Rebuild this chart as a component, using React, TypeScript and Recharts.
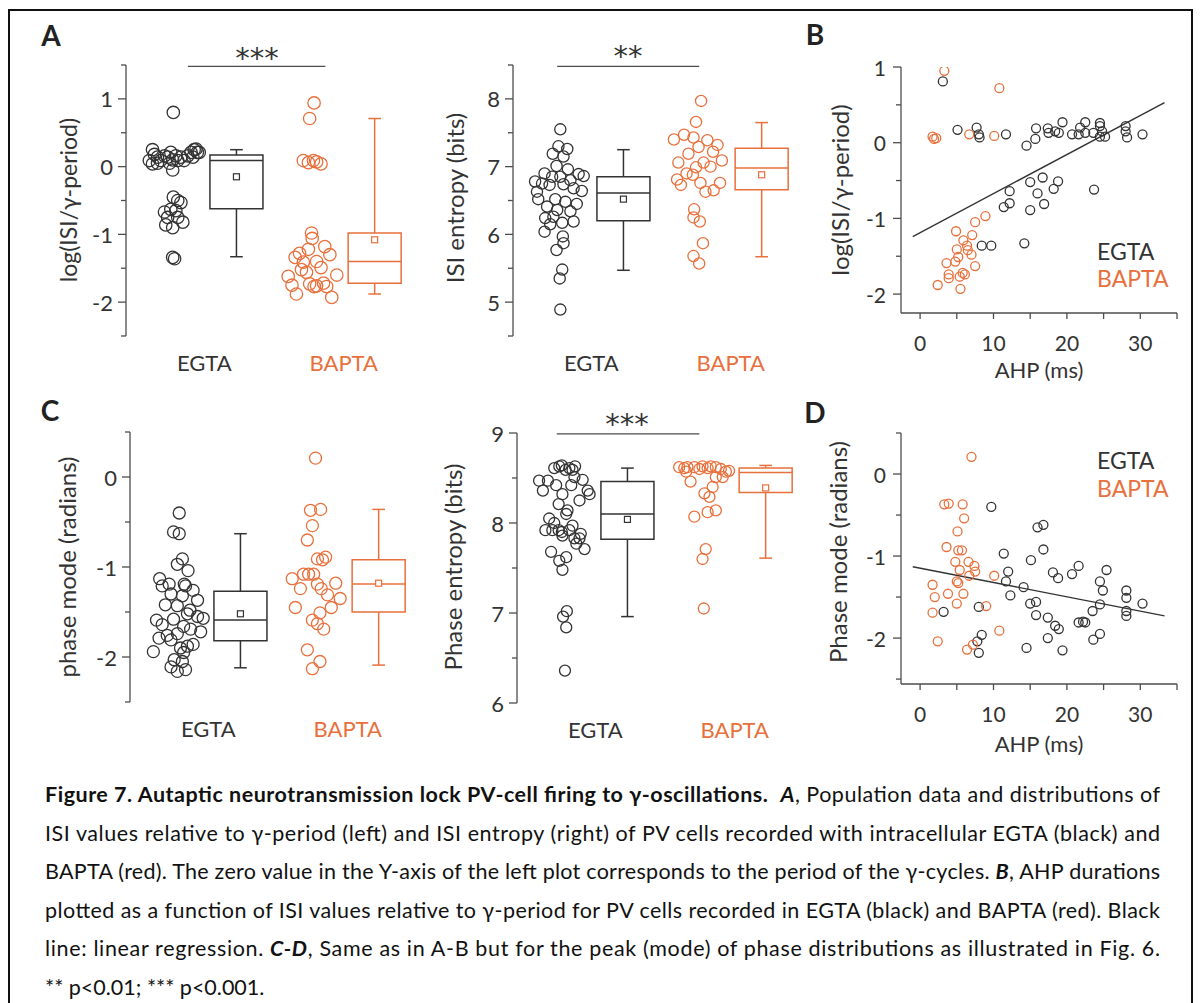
import React from 'react';
import { ScatterChart, Scatter, XAxis, YAxis, ReferenceArea, ReferenceLine } from 'recharts';

const INK = '#333333';
const ORANGE = '#e8703c';
const AXIS = '#4d4d4d';
const FONT = 'Lato, "Open Sans", "DejaVu Sans", sans-serif';

// strip plots: x positions (category units, axis domain 0..4.5)
const groupNames = ['EGTA', 'BAPTA'];
const groupTicks = [1.24, 3.45];
const EGTA_DOTS = 0.75;
const EGTA_BOX = 1.75;
const BAPTA_DOTS = 2.94;
const BAPTA_BOX = 3.94;

// A left: log(ISI/γ-period), points are [jitter, value]
const isiEgta = [
  [0, 0.8], [-0.33, 0.25], [-0.38, 0.09], [-0.3, 0.18], [-0.25, 0.14], [-0.2, 0.09], [-0.14, 0.16],
  [-0.09, 0.14], [-0.04, 0.21], [-0.01, 0.1], [0.04, 0.16], [0.07, 0.09], [0.12, 0.14], [0.17, 0.09],
  [0.23, 0.16], [0.28, 0.21], [0.31, 0.14], [0.33, 0.25], [0.36, 0.26], [0.38, 0.21], [0.41, 0.21],
  [-0.06, 0.05], [-0.25, 0.05], [-0.33, 0.04], [-0.01, -0.05],
  [0, -0.45], [0.07, -0.5], [0.12, -0.53], [-0.14, -0.67], [-0.04, -0.63], [0.04, -0.65], [-0.09, -0.75],
  [0.07, -0.75], [0.15, -0.82], [-0.12, -0.86], [-0.01, -0.9], [-0.01, -1.34], [0.02, -1.36],
];
const isiBapta = [
  [0.04, 0.94], [-0.03, 0.71], [-0.13, 0.09], [-0.05, 0.06], [0.03, 0.09], [0.08, 0.07], [0.15, 0.04],
  [0, -0.98], [0.01, -1.06], [-0.05, -1.22], [0.21, -1.18], [0.29, -1.3], [-0.26, -1.34], [-0.19, -1.28],
  [-0.13, -1.41], [0.08, -1.4], [0.15, -1.49], [-0.16, -1.52], [-0.08, -1.56], [0.4, -1.6], [-0.37, -1.62],
  [-0.03, -1.73], [0.08, -1.76], [0.19, -1.72], [0.24, -1.77], [0.04, -1.77], [-0.31, -1.75],
  [-0.24, -1.88], [0.32, -1.93],
];
// box stats: [low whisker, q1, median, q3, high whisker, mean]
const isiEgtaBox = [-1.33, -0.62, 0.09, 0.17, 0.25, -0.15];
const isiBaptaBox = [-1.88, -1.72, -1.4, -0.98, 0.71, -1.08];

// A right: ISI entropy (bits)
const entEgta = [
  [0, 7.55], [-0.03, 7.3], [0.11, 7.26], [-0.12, 7.19], [0.05, 7.15], [-0.06, 7.01], [0.12, 6.96],
  [-0.25, 6.9], [0.29, 6.89], [0.37, 6.86], [-0.13, 6.85], [0, 6.85], [0.16, 6.8], [-0.4, 6.78],
  [-0.29, 6.75], [0.05, 6.74], [-0.17, 6.73], [0.21, 6.68], [0.34, 6.64], [-0.37, 6.63], [-0.35, 6.52],
  [-0.08, 6.52], [0.08, 6.48], [0.26, 6.45], [-0.21, 6.41], [-0.05, 6.36], [0.16, 6.34], [-0.11, 6.26],
  [-0.24, 6.24], [0.21, 6.19], [0.03, 6.17], [-0.16, 6.15], [-0.25, 6.04], [0.04, 5.97], [0.05, 5.87],
  [-0.06, 5.77], [0.03, 5.48], [-0.01, 5.35], [0, 4.89],
];
const entBapta = [
  [0.04, 7.97], [-0.04, 7.66], [-0.23, 7.47], [-0.08, 7.43], [-0.39, 7.4], [0.14, 7.39], [0.3, 7.32],
  [0, 7.29], [0.23, 7.22], [-0.16, 7.19], [0.37, 7.09], [-0.32, 7.06], [0.08, 7.06], [0.19, 7.0],
  [-0.04, 6.99], [-0.19, 6.9], [-0.09, 6.88], [-0.34, 6.81], [0.03, 6.76], [0.34, 6.76], [-0.28, 6.73],
  [0.24, 6.65], [0.11, 6.63], [-0.07, 6.37], [-0.08, 6.25], [0.02, 6.19], [0.07, 5.87], [-0.08, 5.68],
  [0.01, 5.57],
];
const entEgtaBox = [5.47, 6.2, 6.61, 6.85, 7.25, 6.52];
const entBaptaBox = [5.67, 6.66, 6.98, 7.27, 7.65, 6.88];

// C left: phase mode (radians)
const phaseEgta = [
  [0.03, -0.4], [-0.06, -0.61], [0.03, -0.63], [0.08, -0.91], [0, -0.97], [0.17, -1.04], [-0.28, -1.13],
  [-0.13, -1.19], [-0.24, -1.21], [0.11, -1.19], [0.13, -1.21], [0.25, -1.26], [-0.1, -1.3], [0.08, -1.32],
  [0.32, -1.37], [-0.19, -1.42], [0, -1.43], [0.2, -1.48], [0.16, -1.52], [0.32, -1.55], [0.41, -1.57],
  [-0.33, -1.59], [-0.06, -1.58], [-0.24, -1.64], [0.1, -1.66], [0.21, -1.69], [0.37, -1.72], [0, -1.74],
  [-0.16, -1.76], [-0.29, -1.79], [-0.1, -1.81], [0.25, -1.86], [0.16, -1.88], [0.05, -1.9], [-0.38, -1.94],
  [0.1, -1.95], [-0.05, -2.03], [0.08, -2.05], [-0.1, -2.11], [0.13, -2.14], [0, -2.16],
];
const phaseBapta = [
  [0, 0.21], [0.08, -0.36], [-0.08, -0.37], [-0.05, -0.54], [-0.13, -0.7], [0.16, -0.89], [0.03, -0.91],
  [0.11, -0.92], [-0.11, -1.08], [-0.03, -1.08], [-0.19, -1.08], [-0.37, -1.13], [0.32, -1.18], [0.03, -1.19],
  [-0.24, -1.24], [0.09, -1.24], [0.19, -1.31], [0.39, -1.35], [-0.32, -1.45], [0.25, -1.45], [0.07, -1.51],
  [-0.05, -1.59], [0.03, -1.63], [0.13, -1.69], [-0.13, -1.92], [0.07, -2.05], [-0.05, -2.13],
];
const phaseEgtaBox = [-2.12, -1.82, -1.59, -1.27, -0.63, -1.52];
const phaseBaptaBox = [-2.09, -1.5, -1.19, -0.92, -0.36, -1.18];

// C right: phase entropy (bits)
const pentEgta = [
  [-0.08, 8.63], [-0.04, 8.64], [0.17, 8.63], [-0.16, 8.61], [0.08, 8.61], [0.02, 8.59], [0.13, 8.59],
  [0.16, 8.51], [0.29, 8.48], [-0.4, 8.47], [-0.26, 8.47], [-0.13, 8.42], [0.11, 8.42], [-0.34, 8.36],
  [0.37, 8.36], [-0.03, 8.32], [0.4, 8.32], [0.24, 8.25], [-0.09, 8.21], [0.05, 8.14], [0.03, 8.1],
  [-0.24, 8.05], [-0.16, 8.0], [0.13, 7.97], [-0.3, 7.92], [-0.19, 7.92], [-0.09, 7.92], [0.08, 7.92],
  [-0.04, 7.9], [0.26, 7.88], [-0.03, 7.86], [0.16, 7.83], [0.24, 7.83], [0.19, 7.77], [0.32, 7.71],
  [-0.21, 7.68], [0.03, 7.62], [-0.08, 7.58], [-0.03, 7.48], [0.04, 7.02], [-0.02, 6.96], [0.03, 6.84],
  [0.01, 6.36],
];
const pentBapta = [
  [-0.37, 8.62], [-0.24, 8.62], [-0.13, 8.62], [0, 8.63], [0.13, 8.63], [0.21, 8.62], [-0.29, 8.61],
  [-0.05, 8.6], [0.08, 8.61], [0.29, 8.6], [-0.26, 8.57], [0.37, 8.57], [0.42, 8.58], [0.21, 8.51],
  [-0.19, 8.46], [0.32, 8.51], [0.16, 8.4], [0.03, 8.33], [0.11, 8.29], [0.21, 8.14], [0.08, 8.12],
  [-0.13, 8.07], [0.05, 7.71], [0, 7.6], [0.02, 7.05],
];
const pentEgtaBox = [6.96, 7.82, 8.1, 8.46, 8.61, 8.04];
const pentBaptaBox = [7.61, 8.34, 8.56, 8.61, 8.64, 8.39];

// B: AHP (ms) vs log(ISI/γ-period), points are [ahp, value]
const ahpIsiEgta = [
  [3.1, 0.81], [5.1, 0.17], [7.7, 0.2], [8.0, 0.11], [8.1, 0.07], [11.7, 0.11], [14.5, -0.04], [15.8, 0.19],
  [15.7, 0.05], [17.4, 0.19], [17.5, 0.13], [18.4, 0.15], [18.9, 0.13], [19.4, 0.27], [20.7, 0.11],
  [21.6, 0.11], [21.8, 0.2], [22.5, 0.27], [22.5, 0.13], [23.6, 0.13], [24.5, 0.26], [24.5, 0.22],
  [24.5, 0.08], [24.8, 0.15], [25.2, 0.08], [28.0, 0.22], [28.0, 0.15], [28.2, 0.07], [30.3, 0.11],
  [11.4, -0.85], [12.2, -0.64], [12.2, -0.8], [15.0, -0.52], [15.0, -0.89], [16.0, -0.67], [16.7, -0.46],
  [16.9, -0.81], [18.2, -0.61], [18.8, -0.51], [23.7, -0.62], [8.4, -1.36], [9.7, -1.36], [14.2, -1.33],
];
const ahpIsiBapta = [
  [3.3, 0.95], [10.8, 0.72], [1.7, 0.08], [1.9, 0.05], [2.2, 0.06], [6.7, 0.11], [10.1, 0.09],
  [8.9, -0.97], [7.5, -1.05], [4.9, -1.17], [7.1, -1.22], [5.9, -1.29], [6.4, -1.36], [5.0, -1.41],
  [7.0, -1.48], [6.5, -1.42], [5.2, -1.51], [4.8, -1.57], [3.6, -1.59], [7.5, -1.63], [3.9, -1.74],
  [5.8, -1.72], [6.1, -1.74], [2.4, -1.88], [3.9, -1.79], [5.4, -1.77], [5.5, -1.93],
];
const regIsi = [[-1, -1.24], [33.3, 0.53]];

// D: AHP (ms) vs phase mode (radians)
const ahpPhaseEgta = [
  [9.7, -0.4], [16.0, -0.65], [16.8, -0.62], [11.4, -0.97], [16.8, -0.92], [15.1, -1.05], [12.0, -1.19],
  [11.7, -1.31], [12.3, -1.48], [14.1, -1.38], [18.1, -1.2], [18.8, -1.27], [20.7, -1.22], [21.6, -1.12],
  [25.4, -1.17], [24.5, -1.31], [24.9, -1.42], [28.1, -1.42], [28.1, -1.51], [30.3, -1.58], [15.0, -1.58],
  [15.8, -1.56], [15.8, -1.72], [17.4, -1.75], [18.4, -1.85], [18.9, -1.89], [21.6, -1.81], [22.2, -1.8],
  [22.5, -1.81], [23.5, -1.67], [24.5, -1.59], [28.1, -1.67], [28.1, -1.73], [3.2, -1.68], [8.0, -1.62],
  [8.4, -1.96], [7.8, -2.04], [8.0, -2.18], [14.5, -2.12], [17.4, -2.0], [19.4, -2.15], [23.6, -2.02],
  [24.5, -1.95],
];
const ahpPhaseBapta = [
  [7.0, 0.21], [3.3, -0.37], [3.9, -0.36], [5.8, -0.37], [6.0, -0.54], [5.1, -0.7], [3.6, -0.89],
  [5.2, -0.93], [5.7, -0.93], [4.8, -1.07], [6.6, -1.07], [7.4, -1.12], [5.4, -1.17], [7.5, -1.19],
  [6.7, -1.24], [10.1, -1.24], [5.0, -1.31], [5.2, -1.33], [1.7, -1.35], [3.8, -1.46], [5.9, -1.46],
  [2.0, -1.5], [5.0, -1.58], [9.0, -1.61], [1.7, -1.69], [10.8, -1.91], [2.4, -2.04], [7.2, -2.08],
  [6.4, -2.14],
];
const regPhase = [[-1, -1.13], [33.3, -1.73]];

const ahpTicks = [0, 5, 10, 15, 20, 25, 30, 35];
const ahpLabeled = [0, 10, 20, 30];

const captionLines = [
  [
    { t: 'Figure 7. Autaptic neurotransmission lock PV-cell firing to γ-oscillations.', b: true },
    { t: '\u00a0\u00a0' },
    { t: 'A', b: true, i: true },
    { t: ', Population data and distributions of' },
  ],
  [{ t: 'ISI values relative to γ-period (left) and ISI entropy (right) of PV cells recorded with intracellular EGTA (black) and' }],
  [
    { t: 'BAPTA (red). The zero value in the Y-axis of the left plot corresponds to the period of the γ-cycles. ' },
    { t: 'B', b: true, i: true },
    { t: ', AHP durations' },
  ],
  [{ t: 'plotted as a function of ISI values relative to γ-period for PV cells recorded in EGTA (black) and BAPTA (red). Black' }],
  [
    { t: 'line: linear regression. ' },
    { t: 'C-D', b: true, i: true },
    { t: ', Same as in A-B but for the peak (mode) of phase distributions as illustrated in Fig. 6.' },
  ],
  [{ t: '** p<0.01; *** p<0.001.' }],
];

const YW = 80;
const STRIP_W = 284;
const XY_AXIS = 901;
const XY_W = 276;

const ring = (r: number, color: string) => (p: any) => (
  <circle cx={p.cx} cy={p.cy} r={r} fill="none" stroke={color} strokeWidth={1.3} />
);
const meanMark = (color: string) => (p: any) => (
  <rect x={p.cx - 3} y={p.cy - 3} width={6} height={6} fill="#fff" stroke={color} strokeWidth={1.2} />
);

const YTick = ({ x, y, payload, labeled, size, gap }: any) => {
  const v = payload.value;
  const major = labeled.includes(v);
  return (
    <g>
      <line x1={x - (major ? 8 : 5)} x2={x} y1={y} y2={y} stroke={AXIS} strokeWidth={1.3} />
      {major && (
        <text x={x - gap} y={y} textAnchor="end" dominantBaseline="central" fontSize={size} fill={INK} fontFamily={FONT}>
          {String(v)}
        </text>
      )}
    </g>
  );
};

const XTick = ({ x, y, payload }: any) => {
  const v = payload.value;
  return (
    <g>
      <line x1={x} x2={x} y1={y} y2={y + 6} stroke={AXIS} strokeWidth={1.3} />
      {ahpLabeled.includes(v) && (
        <text x={x} y={y + 29} textAnchor="middle" dominantBaseline="central" fontSize={21} fill={INK} fontFamily={FONT}>
          {v}
        </text>
      )}
    </g>
  );
};

const GroupTick = ({ x, y, payload }: any) => {
  const i = payload.value === groupTicks[0] ? 0 : 1;
  return (
    <text x={x} y={y + 26} textAnchor="middle" dominantBaseline="central" fontSize={22} fill={i ? ORANGE : INK} fontFamily={FONT}>
      {groupNames[i]}
    </text>
  );
};

function boxParts(s: number[], pos: number, color: string, k: string) {
  const [lo, q1, med, q3, hi] = s;
  const hw = 0.42;
  const cw = 0.1;
  const seg = (x1: number, y1: number, x2: number, y2: number, key: string) => (
    <ReferenceLine key={key} segment={[{ x: x1, y: y1 }, { x: x2, y: y2 }]} stroke={color} strokeWidth={1.5} ifOverflow="visible" />
  );
  return [
    <ReferenceArea key={k + 'box'} x1={pos - hw} x2={pos + hw} y1={q1} y2={q3} fill="none" fillOpacity={0} stroke={color} strokeWidth={1.5} strokeOpacity={1} ifOverflow="visible" />,
    seg(pos - hw, med, pos + hw, med, k + 'med'),
    seg(pos, q3, pos, hi, k + 'wh'),
    seg(pos, q1, pos, lo, k + 'wl'),
    seg(pos - cw, hi, pos + cw, hi, k + 'ch'),
    seg(pos - cw, lo, pos + cw, lo, k + 'cl'),
  ];
}

function StripPanel({ axisX, plotTop, plotH, domain, ticks, labeled, egta, bapta, egtaBox, baptaBox, r, sig }: any) {
  const W = YW + STRIP_W + 20;
  const H = 40 + plotH + 50 + 10;
  const toPts = (pts: number[][], pos: number) => pts.map(([j, v]) => ({ x: pos + j, y: v }));
  return (
    <div style={{ position: 'absolute', left: axisX - YW, top: plotTop - 40 }}>
      <ScatterChart width={W} height={H} margin={{ top: 40, right: 20, bottom: 10, left: 0 }}>
        <XAxis type="number" dataKey="x" domain={[0, 4.5]} ticks={groupTicks} interval={0} allowDataOverflow height={50}
          axisLine={false} tickLine={false} tickSize={0} tickMargin={0} tick={(p: any) => <GroupTick {...p} />} />
        <YAxis type="number" dataKey="y" domain={domain} ticks={ticks} interval={0} allowDataOverflow width={YW}
          axisLine={{ stroke: AXIS, strokeWidth: 1.3 }} tickLine={false} tickSize={0} tickMargin={0}
          tick={(p: any) => <YTick {...p} labeled={labeled} size={22} gap={13} />} />
        {boxParts(egtaBox, EGTA_BOX, INK, 'e')}
        {boxParts(baptaBox, BAPTA_BOX, ORANGE, 'b')}
        {sig && (
          <ReferenceLine segment={[{ x: sig[0], y: sig[2] }, { x: sig[1], y: sig[2] }]} stroke={AXIS} strokeWidth={1.3} ifOverflow="visible" />
        )}
        <Scatter data={toPts(egta, EGTA_DOTS)} shape={ring(r, INK)} isAnimationActive={false} />
        <Scatter data={toPts(bapta, BAPTA_DOTS)} shape={ring(r, ORANGE)} isAnimationActive={false} />
        <Scatter data={[{ x: EGTA_BOX, y: egtaBox[5] }]} shape={meanMark(INK)} isAnimationActive={false} />
        <Scatter data={[{ x: BAPTA_BOX, y: baptaBox[5] }]} shape={meanMark(ORANGE)} isAnimationActive={false} />
      </ScatterChart>
    </div>
  );
}

function XYPanel({ plotTop, plotH, domain, ticks, labeled, egta, bapta, reg }: any) {
  const W = YW + XY_W + 20;
  const H = 40 + plotH + 50 + 10;
  const toPts = (pts: number[][]) => pts.map(([x, y]) => ({ x, y }));
  return (
    <div style={{ position: 'absolute', left: XY_AXIS - YW, top: plotTop - 40 }}>
      <ScatterChart width={W} height={H} margin={{ top: 40, right: 20, bottom: 10, left: 0 }}>
        <XAxis type="number" dataKey="x" domain={[-2.6, 35]} ticks={ahpTicks} interval={0} allowDataOverflow height={50}
          axisLine={{ stroke: AXIS, strokeWidth: 1.3 }} tickLine={false} tickSize={0} tickMargin={0}
          tick={(p: any) => <XTick {...p} />} />
        <YAxis type="number" dataKey="y" domain={domain} ticks={ticks} interval={0} allowDataOverflow width={YW}
          axisLine={{ stroke: AXIS, strokeWidth: 1.3 }} tickLine={false} tickSize={0} tickMargin={0}
          tick={(p: any) => <YTick {...p} labeled={labeled} size={21} gap={15} />} />
        <ReferenceLine segment={[{ x: reg[0][0], y: reg[0][1] }, { x: reg[1][0], y: reg[1][1] }]} stroke={INK} strokeWidth={1.4} ifOverflow="visible" />
        <Scatter data={toPts(egta)} shape={ring(4.5, INK)} isAnimationActive={false} />
        <Scatter data={toPts(bapta)} shape={ring(4.5, ORANGE)} isAnimationActive={false} />
      </ScatterChart>
    </div>
  );
}

const Txt = ({ x, y, size = 22, color = INK, weight = 400, rotate = false, anchor = 'middle', children }: any) => (
  <div
    style={{
      position: 'absolute', left: x, top: y, fontSize: size, color, fontWeight: weight, lineHeight: 1,
      whiteSpace: 'nowrap', fontFamily: FONT,
      transform: (anchor === 'start' ? 'translate(0,-50%)' : 'translate(-50%,-50%)') + (rotate ? ' rotate(-90deg)' : ''),
    }}
  >
    {children}
  </div>
);

// significance stars: [centre x, glyph centre y, text]
const stars = [[257, 52, '***'], [628, 50, '**'], [627, 418, '***']];

export default function App() {
  const halfTicks = (a: number, b: number) => {
    const out: number[] = [];
    for (let v = a; v <= b + 1e-9; v += 0.5) out.push(Math.round(v * 10) / 10);
    return out;
  };
  return (
    <div style={{ position: 'absolute', left: 0, top: 0, width: 1202, height: 1003, overflow: 'hidden', background: '#fff', fontFamily: FONT }}>
      <div style={{ position: 'absolute', left: 8, top: 9, width: 1181, height: 1100, border: '2px solid #111' }} />

      {/* panel letters */}
      <Txt x={51} y={35} size={28} weight={700} color="#222">A</Txt>
      <Txt x={815} y={34} size={28} weight={700} color="#222">B</Txt>
      <Txt x={50} y={410} size={28} weight={700} color="#222">C</Txt>
      <Txt x={815} y={412} size={28} weight={700} color="#222">D</Txt>

      {/* A */}
      <StripPanel axisX={126} plotTop={65} plotH={271} domain={[-2.5, 1.5]} ticks={halfTicks(-2.5, 1.5)} labeled={[-2, -1, 0, 1]}
        egta={isiEgta} bapta={isiBapta} egtaBox={isiEgtaBox} baptaBox={isiBaptaBox} r={6.2} sig={[0.98, 3.16, 1.48]} />
      <StripPanel axisX={513} plotTop={65} plotH={271} domain={[4.5, 8.5]} ticks={halfTicks(4.5, 8.5)} labeled={[5, 6, 7, 8]}
        egta={entEgta} bapta={entBapta} egtaBox={entEgtaBox} baptaBox={entBaptaBox} r={5.6} sig={[0.7, 2.95, 8.48]} />
      <Txt x={68} y={200} size={23} rotate>log(ISI/γ-period)</Txt>
      <Txt x={455} y={198} size={24} rotate>ISI entropy (bits)</Txt>

      {/* B */}
      <XYPanel plotTop={67} plotH={246} domain={[-2.25, 1]} ticks={[-2, -1.5, -1, -0.5, 0, 0.5, 1]} labeled={[-2, -1, 0, 1]}
        egta={ahpIsiEgta} bapta={ahpIsiBapta} reg={regIsi} />
      <Txt x={840} y={190} size={24} rotate>log(ISI/γ-period)</Txt>
      <Txt x={1039} y={370} size={22}>AHP (ms)</Txt>
      <Txt x={1097} y={251} size={23} anchor="start">EGTA</Txt>
      <Txt x={1097} y={278} size={23} anchor="start" color={ORANGE}>BAPTA</Txt>

      {/* C */}
      <StripPanel axisX={130} plotTop={432} plotH={270} domain={[-2.5, 0.5]} ticks={halfTicks(-2.5, 0.5)} labeled={[-2, -1, 0]}
        egta={phaseEgta} bapta={phaseBapta} egtaBox={phaseEgtaBox} baptaBox={phaseBaptaBox} r={6} />
      <StripPanel axisX={517} plotTop={433} plotH={270} domain={[6, 9]} ticks={halfTicks(6, 9)} labeled={[6, 7, 8, 9]}
        egta={pentEgta} bapta={pentBapta} egtaBox={pentEgtaBox} baptaBox={pentBaptaBox} r={5.5} sig={[0.63, 2.89, 8.99]} />
      <Txt x={67} y={567} size={24} rotate>phase mode (radians)</Txt>
      <Txt x={453} y={567} size={24} rotate>Phase entropy (bits)</Txt>

      {/* D */}
      <XYPanel plotTop={433} plotH={251} domain={[-2.56, 0.5]} ticks={[-2.5, -2, -1.5, -1, -0.5, 0, 0.5]} labeled={[-2, -1, 0]}
        egta={ahpPhaseEgta} bapta={ahpPhaseBapta} reg={regPhase} />
      <Txt x={838} y={552} size={24} rotate>Phase mode (radians)</Txt>
      <Txt x={1039} y={744} size={22}>AHP (ms)</Txt>
      <Txt x={1097} y={460} size={23} anchor="start">EGTA</Txt>
      <Txt x={1097} y={488} size={23} anchor="start" color={ORANGE}>BAPTA</Txt>

      {/* significance stars */}
      <svg style={{ position: 'absolute', left: 0, top: 0, pointerEvents: 'none' }} width={1202} height={760}>
        {stars.map(([x, y, s], i) => (
          <text key={i} x={x as number} y={(y as number) + 16} textAnchor="middle" fontSize={29} fill={INK}
            fontFamily='"DejaVu Sans", sans-serif'>{s}</text>
        ))}
      </svg>

      {/* caption */}
      <svg style={{ position: 'absolute', left: 0, top: 760 }} width={1202} height={243}>
        {captionLines.map((line, i) => (
          <text key={i} x={45} y={42 + i * 38.6} fontSize={21.5} fill="#111" fontFamily={FONT}
            {...(i < captionLines.length - 1 ? { textLength: 1115, lengthAdjust: 'spacing' } : {})}>
            {line.map((s: any, j: number) => (
              <tspan key={j} fontWeight={s.b ? 700 : 400} fontStyle={s.i ? 'italic' : 'normal'}>{s.t}</tspan>
            ))}
          </text>
        ))}
      </svg>
    </div>
  );
}
